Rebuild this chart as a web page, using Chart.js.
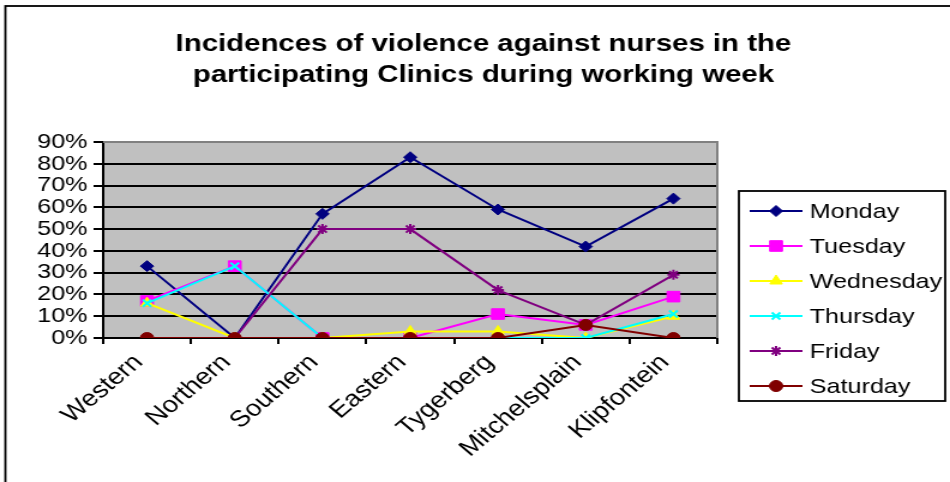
<!DOCTYPE html>
<html>
<head>
<meta charset="utf-8">
<script src="https://cdn.jsdelivr.net/npm/chart.js"></script>
<style>
html, body { margin: 0; padding: 0; background: #fff; overflow: hidden; }
</style>
</head>
<body>
<!-- the original is an Excel chart stretched sideways, so the canvas is drawn narrow and widened by css -->
<canvas id="myChart" width="792" height="482" style="width:950px;height:482px"></canvas>
<script>
var clinics = ['Western', 'Northern', 'Southern', 'Eastern', 'Tygerberg', 'Mitchelsplain', 'Klipfontein'];
var monday    = [33, 0, 57, 83, 59, 42, 64];
var tuesday   = [17, 33, 0, 0, 11, 6, 19];
var wednesday = [16, 0, 0, 3, 3, 0, 10];
var thursday  = [16, 33, 0, 0, 0, 0, 11];
var friday    = [0, 0, 50, 50, 22, 6, 29];
var saturday  = [0, 0, 0, 0, 0, 6, 0];
var yTicks = [0, 10, 20, 30, 40, 50, 60, 70, 80, 90];
var titleLines = ['Incidences of violence against nurses in the', 'participating Clinics during working week'];

var font = "'Liberation Sans', Arial, sans-serif";

function series(label, values, color, style, radius, order) {
    return {
        label: label,
        data: values,
        borderColor: color,
        backgroundColor: color,
        pointBackgroundColor: color,
        pointBorderColor: color,
        pointStyle: style,
        pointRadius: radius,
        pointHoverRadius: radius,
        pointBorderWidth: (style === 'crossRot' || style === 'star') ? 2 : 1,
        borderWidth: 2,
        tension: 0,
        order: order
    };
}

var excelLook = {
    id: 'excelLook',
    beforeDraw: function (chart) {
        var ctx = chart.ctx, a = chart.chartArea;
        ctx.save();
        ctx.fillStyle = '#fff';
        ctx.fillRect(0, 0, chart.width, chart.height);
        ctx.strokeStyle = '#000';
        ctx.lineWidth = 1.8;
        ctx.strokeRect(4.5, 6, 1000, 1000);
        ctx.fillStyle = '#c0c0c0';
        ctx.fillRect(a.left, a.top, a.right - a.left, a.bottom - a.top);
        ctx.restore();
    },
    beforeDatasetsDraw: function (chart) {
        var ctx = chart.ctx, a = chart.chartArea;
        ctx.save();
        ctx.strokeStyle = '#808080';
        ctx.lineWidth = 2;
        ctx.beginPath();
        ctx.moveTo(a.left, a.top);
        ctx.lineTo(a.right, a.top);
        ctx.lineTo(a.right, a.bottom);
        ctx.stroke();
        ctx.restore();
    },
    afterDraw: function (chart) {
        var ctx = chart.ctx;
        ctx.save();

        // title
        ctx.fillStyle = '#000';
        ctx.font = 'bold 24.5px ' + font;
        ctx.textAlign = 'center';
        ctx.textBaseline = 'alphabetic';
        ctx.fillText(titleLines[0], 403, 51);
        ctx.fillText(titleLines[1], 403, 82);

        // legend box
        ctx.strokeStyle = '#000';
        ctx.lineWidth = 1.8;
        ctx.strokeRect(616, 191, 172, 210);
        ctx.font = '21px ' + font;
        ctx.textAlign = 'left';
        ctx.textBaseline = 'middle';
        chart.data.datasets.forEach(function (ds, i) {
            var y = 211 + i * 35;
            ctx.strokeStyle = ds.borderColor;
            ctx.lineWidth = 2;
            ctx.beginPath();
            ctx.moveTo(625, y);
            ctx.lineTo(669, y);
            ctx.stroke();
            ctx.fillStyle = ds.pointBackgroundColor;
            ctx.lineWidth = ds.pointBorderWidth;
            Chart.helpers.drawPoint(ctx, {
                pointStyle: ds.pointStyle,
                radius: ds.pointRadius,
                borderWidth: ds.pointBorderWidth,
                rotation: 0
            }, 647, y);
            ctx.fillStyle = '#000';
            ctx.fillText(ds.label, 675, y + 1);
        });
        ctx.restore();
    }
};

var ctx = document.getElementById('myChart').getContext('2d');

var myChart = new Chart(ctx, {
    type: 'line',
    data: {
        labels: clinics,
        datasets: [
            series('Monday', monday, '#000080', 'rectRot', 5.5, 6),
            series('Tuesday', tuesday, '#ff00ff', 'rect', 7.5, 5),
            series('Wednesday', wednesday, '#ffff00', 'triangle', 6, 4),
            series('Thursday', thursday, '#00ffff', 'crossRot', 5, 3),
            series('Friday', friday, '#800080', 'star', 5, 2),
            series('Saturday', saturday, '#800000', 'circle', 5.5, 1)
        ]
    },
    plugins: [excelLook],
    options: {
        responsive: false,
        animation: false,
        devicePixelRatio: 1,
        layout: {
            padding: { top: 142, right: 194, left: 0, bottom: 0 }
        },
        plugins: {
            legend: { display: false },
            title: { display: false },
            tooltip: { enabled: false }
        },
        scales: {
            x: {
                offset: true,
                afterFit: function (scale) { scale.height = 144; },
                grid: {
                    offset: true,
                    drawOnChartArea: false,
                    drawTicks: true,
                    tickLength: 6,
                    color: '#000',
                    lineWidth: 2
                },
                border: { color: '#000', width: 2 },
                ticks: {
                    color: '#000',
                    font: { family: font, size: 23 },
                    minRotation: 45,
                    maxRotation: 45,
                    autoSkip: false,
                    labelOffset: -7,
                    padding: 5
                }
            },
            y: {
                min: 0,
                max: 90,
                afterFit: function (scale) { scale.width = 86; },
                afterBuildTicks: function (scale) {
                    scale.ticks = yTicks.map(function (v) { return { value: v }; });
                },
                grid: {
                    color: function (c) { return c.tick && c.tick.value === 90 ? '#808080' : '#000'; },
                    tickColor: '#000',
                    lineWidth: 2,
                    tickLength: 8
                },
                border: { color: '#000', width: 2 },
                ticks: {
                    color: '#000',
                    autoSkip: false,
                    font: { family: font, size: 21 },
                    padding: 5,
                    callback: function (v) { return v + '%'; }
                }
            }
        }
    }
});
</script>
</body>
</html>
